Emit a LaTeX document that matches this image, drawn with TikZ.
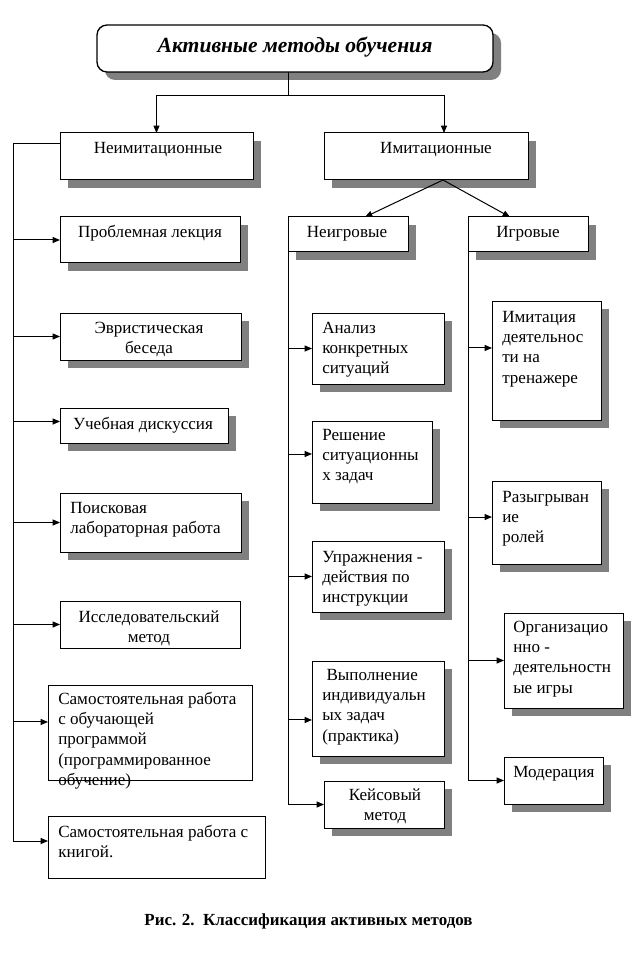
\documentclass[tikz,border=0pt]{standalone}
\usepackage{fontspec}
\setmainfont{Liberation Serif}
\usetikzlibrary{arrows.meta,shadows,fit}
\begin{document}
\begin{tikzpicture}[x=0.75pt,y=-0.75pt,
 every node/.style={font=\fontsize{12.8}{15.2}\selectfont},
 bx/.style={draw, line width=0.75pt, fill=white, inner sep=0pt, outer sep=0pt},
 sh/.style={general shadow={fill=black!50, shadow xshift=6pt, shadow yshift=-6pt}},
 tl/.style={anchor=north west, align=left, inner sep=0pt, yshift=10.64pt},
 tc/.style={anchor=north, align=center, inner sep=0pt, yshift=10.64pt},
 ln/.style={line width=0.75pt},
 arr/.style={ln, -{Triangle[length=5.5pt,width=4.5pt]}}]
\useasboundingbox (0,0) rectangle (637,973);

% title
\node[bx,sh,rounded corners=7.5pt,line width=1pt,fit={(97,25)(493,72)}] (title) {};
\node[anchor=base, font=\fontsize{16.2}{19}\selectfont\bfseries\itshape] (titletext) at (295,53) {Активные методы обучения};

% level 1
\node[bx,sh,fit={(60,133)(253,180)}] (neimit) {};
\node[bx,sh,fit={(324,133)(528,180)}] (imit) {};
\node[tc] (tneimit) at (158,153) {\strut Неимитационные};
\node[tc] (timit) at (436,153) {\strut Имитационные};

% level 2
\node[bx,sh,fit={(288,217)(408,252)}] (neigr) {};
\node[bx,sh,fit={(468,217)(588,252)}] (igr) {};
\node[tc] (tneigr) at (347,237) {\strut Неигровые};
\node[tc] (tigr) at (528,237) {\strut Игровые};

% left column
\node[bx,sh,fit={(60,217)(240,263)}] (prob) {};
\node[bx,sh,fit={(60,313)(241,360)}] (evr) {};
\node[bx,sh,fit={(60,408)(228,443)}] (ucheb) {};
\node[bx,sh,fit={(60,493)(241,552)}] (poisk) {};
\node[bx,fit={(60,601)(240,648)}] (issl) {};
\node[bx,fit={(48,685)(252,780)}] (samob) {};
\node[bx,fit={(48,816)(265,878)}] (samkn) {};
\node[tc] (tprob) at (150,237) {\strut Проблемная лекция};
\node[tc] (tevr) at (149,333) {\strut Эвристическая\\беседа};
\node[tc] (tucheb) at (143,429) {\strut Учебная дискуссия};
\node[tl] (tpoisk) at (70,513) {\strut Поисковая\\лабораторная работа};
\node[tc] (tissl) at (149,622) {\strut Исследовательский\\метод};
\node[tl] (tsamob) at (58,704) {\strut Самостоятельная работа\\с обучающей\\программой\\(программированное\\обучение)};
\node[tl] (tsamkn) at (58,837) {\strut Самостоятельная работа с\\книгой.};

% middle column
\node[bx,sh,fit={(312,313)(444,384)}] (anal) {};
\node[bx,sh,fit={(312,421)(432,503)}] (resh) {};
\node[bx,sh,fit={(312,541)(444,612)}] (upr) {};
\node[bx,sh,fit={(312,661)(444,756)}] (vyp) {};
\node[bx,sh,fit={(324,781)(444,828)}] (keis) {};
\node[tl] (tanal) at (322,333) {\strut Анализ\\конкретных\\ситуаций};
\node[tl] (tresh) at (322,440) {\strut Решение\\ситуационны\\х задач};
\node[tl] (tupr) at (322,562) {\strut Упражнения -\\действия по\\инструкции};
\node[tl] (tvyp) at (322,680) {\strut \ Выполнение\\индивидуальн\\ых задач\\(практика)};
\node[tc] (tkeis) at (385,800) {\strut Кейсовый\\метод};

% right column
\node[bx,sh,fit={(492,301)(601,420)}] (imi) {};
\node[bx,sh,fit={(492,481)(601,564)}] (razy) {};
\node[bx,sh,fit={(504,613)(623,708)}] (org) {};
\node[bx,sh,fit={(504,757)(603,804)}] (mod) {};
\node[tl] (timi) at (502,322) {\strut Имитация\\деятельнос\\ти на\\тренажере};
\node[tl] (trazy) at (502,502) {\strut Разыгрыван\\ие\\ролей};
\node[tl] (torg) at (513,632) {\strut Организацио\\нно -\\деятельностн\\ые игры};
\node[tl] (tmod) at (513,777) {\strut Модерация};

% caption
\node[anchor=base, font=\fontsize{12.7}{15}\selectfont\bfseries] (cap) at (308.5,925) {Рис. 2.\ \ Классификация активных методов};

% connectors
\coordinate (j) at (288,96);
\draw[ln] ([xshift=-5.25pt]title.south) -- (j);
\draw[arr] (j) -| (neimit.north);
\draw[arr] (j) -| ([xshift=90pt]imit.north west);
\draw[arr] ([xshift=12.75pt]imit.south) -- ([xshift=12.75pt]neigr.north);
\draw[arr] ([xshift=12.75pt]imit.south) -- ([xshift=-13.5pt]igr.north);

\coordinate (lb) at (13,144);
\draw[arr] (neimit.west |- lb) -- (lb) |- ([yshift=4.5pt]samkn.west);
\draw[arr] (lb |- prob.west) -- (prob.west);
\draw[arr] (lb |- evr.west) -- (evr.west);
\draw[arr] ([yshift=3pt]lb |- ucheb.west) -- ([yshift=3pt]ucheb.west);
\draw[arr] (lb |- poisk.west) -- (poisk.west);
\draw[arr] (lb |- issl.west) -- (issl.west);
\draw[arr] ([yshift=7.9pt]lb |- samob.west) -- ([yshift=7.9pt]samob.west);

\draw[arr] (neigr.south west) |- (keis.west);
\draw[arr] (neigr.south west |- anal.west) -- (anal.west);
\draw[arr] ([yshift=6pt]neigr.south west |- resh.west) -- ([yshift=6pt]resh.west);
\draw[arr] (neigr.south west |- upr.west) -- (upr.west);
\draw[arr] ([yshift=-8.6pt]neigr.south west |- vyp.west) -- ([yshift=-8.6pt]vyp.west);

\draw[arr] (igr.south west) |- (mod.west);
\draw[arr] ([yshift=9.4pt]igr.south west |- imi.west) -- ([yshift=9.4pt]imi.west);
\draw[arr] ([yshift=4.1pt]igr.south west |- razy.west) -- ([yshift=4.1pt]razy.west);
\draw[arr] (igr.south west |- org.west) -- (org.west);
\end{tikzpicture}
\end{document}
